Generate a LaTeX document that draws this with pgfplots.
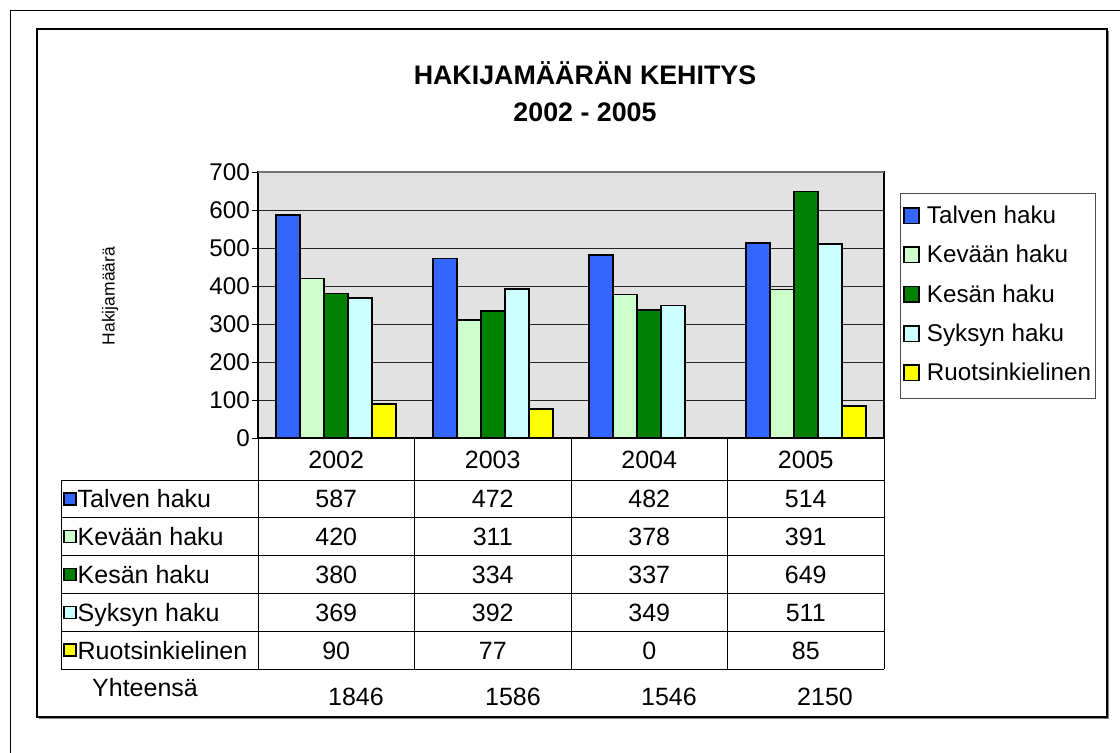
\documentclass[border=0pt]{standalone}
\usepackage{fontspec}
\setmainfont{Liberation Sans}
\usepackage{pgfplots}
\pgfplotsset{compat=1.18}

\definecolor{talven}{HTML}{3366FF}
\definecolor{kevaan}{HTML}{CCFFCC}
\definecolor{kesan}{HTML}{008000}
\definecolor{syksyn}{HTML}{CCFFFF}
\definecolor{ruots}{HTML}{FFFF00}
\definecolor{plotbg}{HTML}{E2E2E2}

\newcommand\tf{\fontsize{25bp}{30bp}\selectfont}
\newcommand\lf{\fontsize{24.2bp}{29bp}\selectfont}

\begin{document}
\begin{tikzpicture}[x=1bp,y=1bp]
\useasboundingbox (0,0) rectangle (1120,-753);
\fill[white] (0,0) rectangle (1120,-753);
% page frame
\draw[line width=1.5bp] (10.5,-753) -- (10.5,-10.5) -- (1120,-10.5);
% chart box with shadow
\draw[line width=1.5bp, gray] (39,-718.5) -- (1108.5,-718.5) -- (1108.5,-31);
\draw[line width=1.2bp] (37,-29) rectangle (1107,-717);

% title
\node[anchor=base, inner sep=0, font=\fontsize{26.8bp}{32bp}\selectfont\bfseries] at (585,-85) {HAKIJAMÄÄRÄN KEHITYS};
\node[anchor=base, inner sep=0, font=\fontsize{26.8bp}{32bp}\selectfont\bfseries] at (585,-121) {2002 - 2005};

% y label
\node[rotate=90, inner sep=0, font=\fontsize{17.5bp}{21bp}\selectfont] at (110,-296) {Hakijamäärä};

\begin{axis}[
  at={(258bp,-438bp)}, anchor=south west,
  scale only axis, width=626bp, height=266bp,
  xmin=-0.5, xmax=3.5, ymin=0, ymax=700,
  ybar=0pt, bar width=24bp,
  xtick=\empty,
  ytick={0,100,...,700}, ytick pos=left, tick align=outside,
  major tick length=6bp,
  ymajorgrids, grid style={black!85, line width=0.8bp},
  axis background/.style={fill=plotbg},
  axis line style={black, line width=1.4bp},
  tick style={black, line width=0.8bp},
  yticklabel style={font=\lf, /pgf/number format/assume math mode=true, inner sep=2bp},
  every axis plot/.append style={draw=black, line width=1.7bp},
  legend style={at={(1.0256,0.921)}, anchor=north west, draw=black!70, line width=0.8bp,
    font=\lf, row sep=15.3bp, inner xsep=3bp, inner ysep=12bp,
    nodes={inner sep=1bp, text height=17bp, text depth=5bp},
    /tikz/every odd column/.append style={column sep=6bp}},
  legend cell align=left,
  legend image code/.code={\draw[#1, draw=black, line width=1.5bp] (0bp,-6bp) rectangle (15bp,9.5bp);},
]
\addplot[fill=talven] coordinates {(0,587) (1,472) (2,482) (3,514)};
\addplot[fill=kevaan] coordinates {(0,420) (1,311) (2,378) (3,391)};
\addplot[fill=kesan] coordinates {(0,380) (1,334) (2,337) (3,649)};
\addplot[fill=syksyn] coordinates {(0,369) (1,392) (2,349) (3,511)};
\addplot[fill=ruots] coordinates {(0,90) (1,77) (2,0) (3,85)};
\legend{Talven haku, Kevään haku, Kesän haku, Syksyn haku, Ruotsinkielinen}
\end{axis}
% gray top border of plot area
\draw[line width=1.4bp, black!55] (258,-172) -- (884,-172);

% data table
\foreach \x in {258,414.5,571,727.5,884} \draw[line width=1bp] (\x,-438) -- (\x,-669);
\draw[line width=1bp] (61,-480) -- (61,-669);
\foreach \y in {480,517.8,555.6,593.4,631.2,669} \draw[line width=1bp] (61,-\y) -- (884,-\y);

\foreach \yr [count=\i from 0] in {2002,2003,2004,2005}
  \node[anchor=base, inner sep=0, font=\tf] at (336.25+156.5*\i,-468) {\yr};

\foreach \lab/\col [count=\r from 0] in {Talven haku/talven, Kevään haku/kevaan, Kesän haku/kesan, Syksyn haku/syksyn, Ruotsinkielinen/ruots}{
  \pgfmathsetmacro\yc{498.9+37.8*\r}
  \filldraw[fill=\col, draw=black, line width=1.3bp] (64,-\yc-6) rectangle (76,-\yc+6);
  \node[anchor=base west, inner sep=0, font=\tf] at (77.5,-\yc-9) {\lab};
}

\foreach \a/\b/\c/\d [count=\r from 0] in {587/472/482/514, 420/311/378/391, 380/334/337/649, 369/392/349/511, 90/77/0/85}{
  \pgfmathsetmacro\yb{498.9+37.8*\r+9}
  \node[anchor=base, inner sep=0, font=\tf] at (336.25,-\yb) {\a};
  \node[anchor=base, inner sep=0, font=\tf] at (492.75,-\yb) {\b};
  \node[anchor=base, inner sep=0, font=\tf] at (649.25,-\yb) {\c};
  \node[anchor=base, inner sep=0, font=\tf] at (805.75,-\yb) {\d};
}

\node[anchor=base west, inner sep=0, font=\tf] at (92,-696) {Yhteensä};
\foreach \t/\xx in {1846/356, 1586/513, 1546/669, 2150/825}
  \node[anchor=base, inner sep=0, font=\tf] at (\xx,-705) {\t};
\end{tikzpicture}
\end{document}
